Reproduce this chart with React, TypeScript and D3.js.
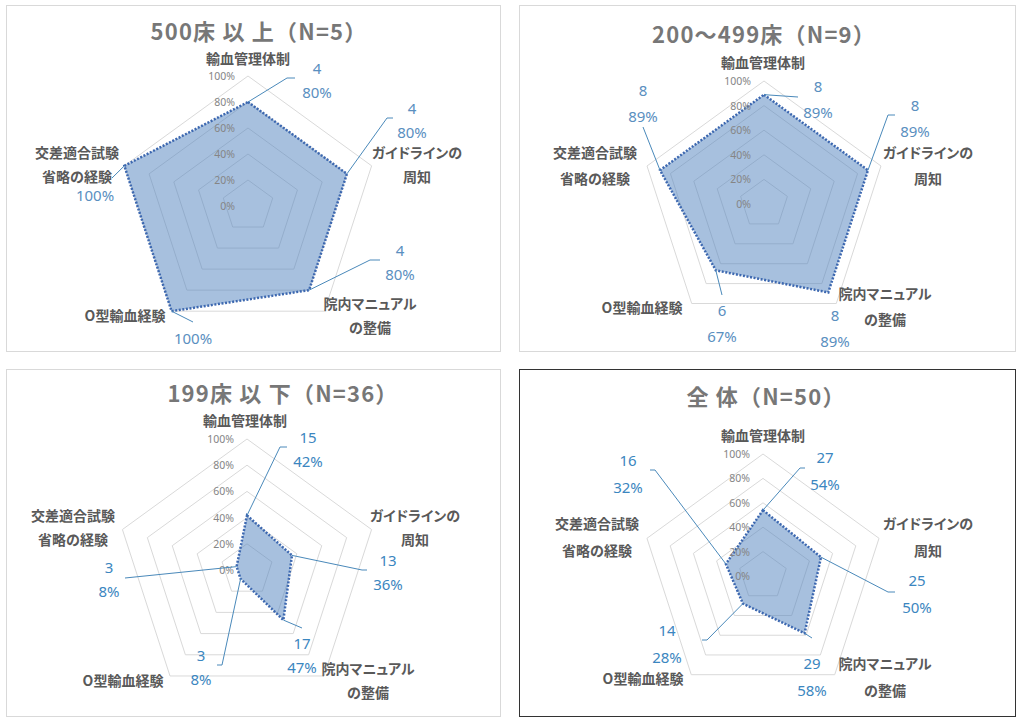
import React from "react";
import * as d3 from "d3";

// ---------- data ----------
const AXES: string[][] = [
  ["輸血管理体制"],
  ["ガイドラインの", "周知"],
  ["院内マニュアル", "の整備"],
  ["O型輸血経験"],
  ["交差適合試験", "省略の経験"],
];
const TICKS = [0, 0.2, 0.4, 0.6, 0.8, 1.0];

const TITLES = ["500床 以 上（N=5）", "200～499床（N=9）", "199床 以 下（N=36）", "全 体（N=50）"];
const N_TOTAL = [5, 9, 36, 50];
const COUNT_500 = [4, 4, 4, 5, 5];
const COUNT_200 = [8, 8, 8, 6, 8];
const COUNT_199 = [15, 13, 17, 3, 3];
const COUNT_ALL = [27, 25, 29, 14, 16];
const COUNTS = [COUNT_500, COUNT_200, COUNT_199, COUNT_ALL];
// whether the count line is shown in each data label
const SHOW_COUNT = [
  [true, true, true, false, false],
  [true, true, true, true, true],
  [true, true, true, true, true],
  [true, true, true, true, true],
];

// ---------- layout ----------
type Lbl = { x: number; y: number; leader: [number, number][] };
type Panel = {
  box: [number, number, number, number];
  border: string;
  cx: number;
  cy: number;
  R: number;
  title: [number, number];
  axisPos: [number, number][];
  gap: number;
  labels: Lbl[];
  lblColor: string;
};

const PANELS: Panel[] = [
  {
    box: [6.5, 5.5, 494, 346],
    border: "#d9d9d9",
    cx: 248, cy: 206, R: 130,
    title: [259, 30],
    axisPos: [[248, 58], [417, 152], [370, 303], [125, 315], [77, 152]],
    gap: 24,
    lblColor: "#5a8fbf",
    labels: [
      { x: 317, y: 68, leader: [[287, 78], [295, 78]] },
      { x: 412, y: 108, leader: [[387, 118], [393, 118]] },
      { x: 400, y: 250, leader: [[370, 260], [380, 260]] },
      { x: 193, y: 338, leader: [[193, 322]] },
      { x: 95, y: 195, leader: [[112, 178]] },
    ],
  },
  {
    box: [519.5, 5.5, 496, 346],
    border: "#d9d9d9",
    cx: 764, cy: 204, R: 123,
    title: [764, 33],
    axisPos: [[763, 62], [928, 152], [885, 293], [642, 307], [595, 152]],
    gap: 26,
    lblColor: "#5a8fbf",
    labels: [
      { x: 818, y: 86, leader: [[798, 97]] },
      { x: 915, y: 105, leader: [[888, 115], [895, 115]] },
      { x: 835, y: 315, leader: [] },
      { x: 722, y: 310, leader: [[722, 295]] },
      { x: 643, y: 90, leader: [[643, 127]] },
    ],
  },
  {
    box: [6.5, 369.5, 494, 347],
    border: "#d9d9d9",
    cx: 247, cy: 570, R: 131,
    title: [283, 392],
    axisPos: [[245, 420], [415, 515], [368, 668], [123, 680], [73, 515]],
    gap: 24,
    lblColor: "#3b86c0",
    labels: [
      { x: 308, y: 437, leader: [[280, 447], [287, 447]] },
      { x: 388, y: 560, leader: [[362, 570], [367, 570]] },
      { x: 302, y: 643, leader: [[302, 628]] },
      { x: 201, y: 655, leader: [[222, 665], [217, 665]] },
      { x: 109, y: 567, leader: [[125, 578]] },
    ],
  },
  {
    box: [519.5, 369.5, 496, 347],
    border: "#333333",
    cx: 763, cy: 576, R: 122,
    title: [766, 395],
    axisPos: [[763, 435], [928, 523], [885, 663], [643, 678], [597, 523]],
    gap: 27,
    lblColor: "#3b86c0",
    labels: [
      { x: 825, y: 457, leader: [[800, 468], [805, 468]] },
      { x: 917, y: 580, leader: [[888, 592], [895, 592]] },
      { x: 812, y: 663, leader: [[812, 638]] },
      { x: 667, y: 630, leader: [[707, 640], [702, 640]] },
      { x: 628, y: 460, leader: [[655, 470], [650, 470]] },
    ],
  },
];

const JP = "'Noto Sans CJK JP', 'Noto Sans', sans-serif";
const NUM = "'Noto Sans', 'DejaVu Sans', sans-serif";
const STEP = (2 * Math.PI) / AXES.length;
const KATA = /[ァ-ヶー]/;

function RadarPanel({ p, idx }: { p: Panel; idx: number }) {
  const r = d3.scaleLinear().domain([0, 1]).range([0, p.R]);
  const counts = COUNTS[idx];
  const n = N_TOTAL[idx];
  const values = counts.map((c) => c / n);

  const ring = d3
    .lineRadial<number>()
    .angle((_, i) => i * STEP)
    .radius((d) => r(d))
    .curve(d3.curveLinearClosed);

  const pt = (v: number, i: number): [number, number] => [
    p.cx + r(v) * Math.sin(i * STEP),
    p.cy - r(v) * Math.cos(i * STEP),
  ];

  return (
    <g>
      <rect x={p.box[0]} y={p.box[1]} width={p.box[2]} height={p.box[3]} fill="#fff" stroke={p.border} strokeWidth={1} />
      <text
        x={p.title[0]}
        y={p.title[1]}
        textAnchor="middle"
        dominantBaseline="central"
        fontFamily={JP}
        fontWeight="bold"
        fontSize={22}
        letterSpacing={1.2}
        fill="#777777"
      >
        {TITLES[idx]}
      </text>
      <g transform={`translate(${p.cx},${p.cy})`}>
        {TICKS.filter((t) => t > 0).map((t) => (
          <path key={t} d={ring(AXES.map(() => t)) || ""} fill="none" stroke="#d9d9d9" strokeWidth={1} />
        ))}
        <path
          d={ring(values) || ""}
          fill="#4f81bd"
          fillOpacity={0.5}
          stroke="#3d68b0"
          strokeWidth={2.5}
          strokeDasharray="2 1.6"
        />
      </g>
      {TICKS.map((t) => (
        <text
          key={"t" + t}
          x={p.cx - 13}
          y={p.cy - r(t)}
          textAnchor="end"
          dominantBaseline="central"
          fontFamily={NUM}
          fontSize={10.5}
          fill="#858585"
        >
          {d3.format(".0%")(t)}
        </text>
      ))}
      {AXES.map((lines, i) => (
        <text
          key={"a" + i}
          textAnchor="middle"
          fontFamily={JP}
          fontWeight="bold"
          fontSize={14}
          fill="#595959"
        >
          {lines.map((ln, j) => (
            <tspan
              key={j}
              x={p.axisPos[i][0]}
              y={p.axisPos[i][1] + j * p.gap}
              dominantBaseline="central"
              style={KATA.test(ln) ? { fontFeatureSettings: "'palt'" } : undefined}
            >
              {ln}
            </tspan>
          ))}
        </text>
      ))}
      {values.map((v, i) => {
        const l = p.labels[i];
        const start = pt(v, i);
        const pts = [start, ...l.leader];
        const lines = SHOW_COUNT[idx][i]
          ? [String(counts[i]), d3.format(".0%")(v)]
          : [d3.format(".0%")(v)];
        return (
          <g key={"l" + i}>
            {l.leader.length > 0 && (
              <path d={d3.line()(pts) || ""} fill="none" stroke="#4a89ba" strokeWidth={1} />
            )}
            {lines.map((s, j) => (
              <text
                key={j}
                x={l.x}
                y={l.y + j * p.gap}
                textAnchor="middle"
                dominantBaseline="central"
                fontFamily={NUM}
                fontSize={15}
                fill={p.lblColor}
              >
                {s}
              </text>
            ))}
          </g>
        );
      })}
    </g>
  );
}

export default function App() {
  return (
    <svg
      width={1018}
      height={720}
      viewBox="0 0 1018 720"
      style={{ position: "absolute", left: 0, top: 0, background: "#fff" }}
    >
      <rect x={0} y={0} width={1018} height={720} fill="#fff" />
      {PANELS.map((p, i) => (
        <RadarPanel key={i} p={p} idx={i} />
      ))}
    </svg>
  );
}
